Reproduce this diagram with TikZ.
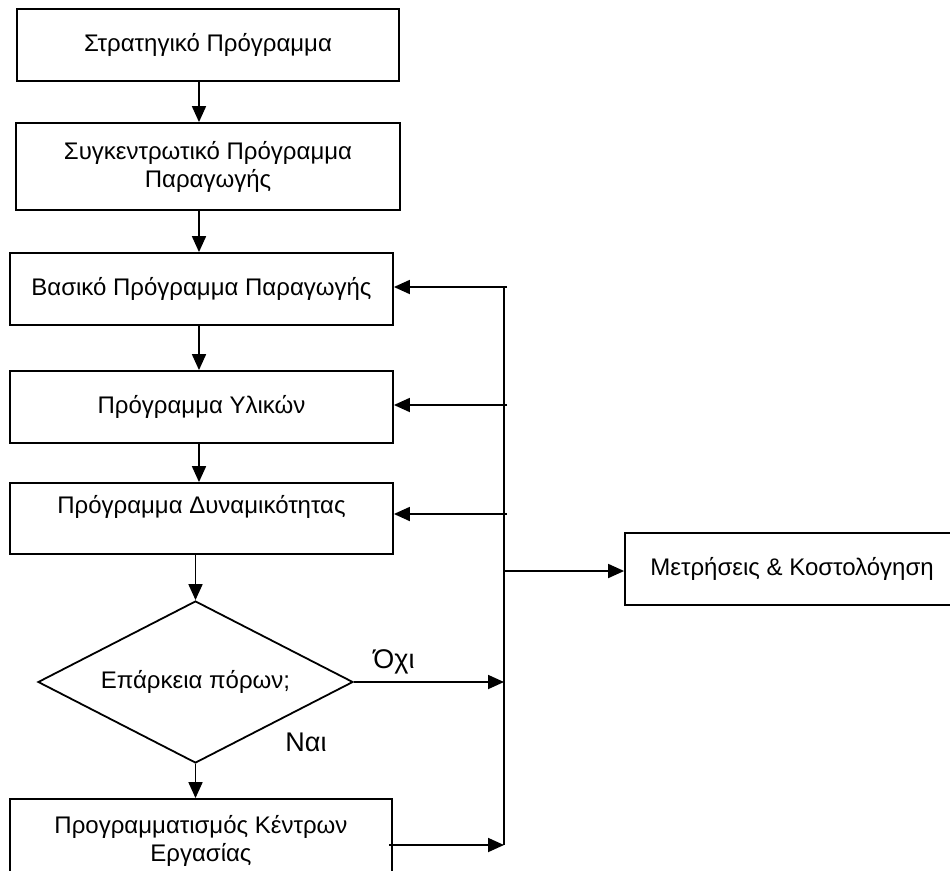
\documentclass[tikz,border=0pt]{standalone}
\usepackage{fontspec}
\setmainfont{Liberation Sans}
\usetikzlibrary{arrows.meta,shapes.geometric}

\begin{document}
\begin{tikzpicture}[x=1pt,y=-1pt,
    box/.style={draw,line width=1.8pt,inner sep=0pt,align=center,
        font=\fontsize{24}{28}\selectfont},
    decision/.style={draw,diamond,shape aspect=2,line width=1.8pt,inner sep=0pt,
        minimum width=315pt,minimum height=162pt,font=\fontsize{24}{28}\selectfont},
    answer/.style={font=\fontsize{27}{30}\selectfont},
    arr/.style={line width=1.8pt,-{Triangle[length=16pt,width=14pt]}},
    bus/.style={line width=1.8pt}]
    \useasboundingbox (0,0) rectangle (950,870);
    % Planning chain
    \node[box,minimum width=382pt,minimum height=72pt] (strategic) at (208,45) {Στρατηγικό Πρόγραμμα};
    \node[box,minimum width=384pt,minimum height=87pt] (aggregate) at (208,166.5) {Συγκεντρωτικό Πρόγραμμα\\Παραγωγής};
    \node[box,minimum width=383pt,minimum height=72pt] (master) at (201.5,289) {Βασικό Πρόγραμμα Παραγωγής};
    \node[box,minimum width=383pt,minimum height=72pt] (materials) at (201.5,407) {Πρόγραμμα Υλικών};
    \node[box,minimum width=383pt,minimum height=71pt] (capacity) at (201.5,518.5) {Πρόγραμμα Δυναμικότητας\\[0pt]\mbox{}};
    \node[decision] (enough) at (195.5,682) {Επάρκεια πόρων;};
    \node[box,minimum width=382pt,minimum height=84pt] (workcentres) at (201,841) {Προγραμματισμός Κέντρων\\Εργασίας};
    \node[box,minimum width=334pt,minimum height=72pt] (costing) at (792,569) {Μετρήσεις \& Κοστολόγηση};
    % Answers
    \node[answer] (no) at (394,662) {Όχι};
    \node[answer] (yes) at (306,742) {Ναι};
    % Downward arrows
    \coordinate (spine) at (199,0);
    \draw[arr] (strategic.south -| spine) -- (aggregate.north -| spine);
    \draw[arr] (aggregate.south -| spine) -- (master.north -| spine);
    \draw[arr] (master.south -| spine) -- (materials.north -| spine);
    \draw[arr] (materials.south -| spine) -- (capacity.north -| spine);
    \draw[arr] (capacity.south -| enough) -- (enough.north);
    \draw[arr] (enough.south) -- (workcentres.north -| enough);
    % Feedback bus
    \coordinate (busTop) at (504,287);
    \coordinate (busBot) at (504,845);
    \draw[bus] (busTop) -- (busBot);
    \draw[arr] (507,287) -- (busTop -| master.east);
    \draw[arr] (507,405) -- (master.east |- 0,405);
    \draw[arr] (507,514) -- (master.east |- 0,514);
    \draw[arr] (busTop |- 0,571) -- (costing.west |- 0,571);
    \draw[arr] (enough.east) -- (busTop |- enough.east);
    \draw[arr] (busBot -| 389,0) -- (busBot);
\end{tikzpicture}
\end{document}
